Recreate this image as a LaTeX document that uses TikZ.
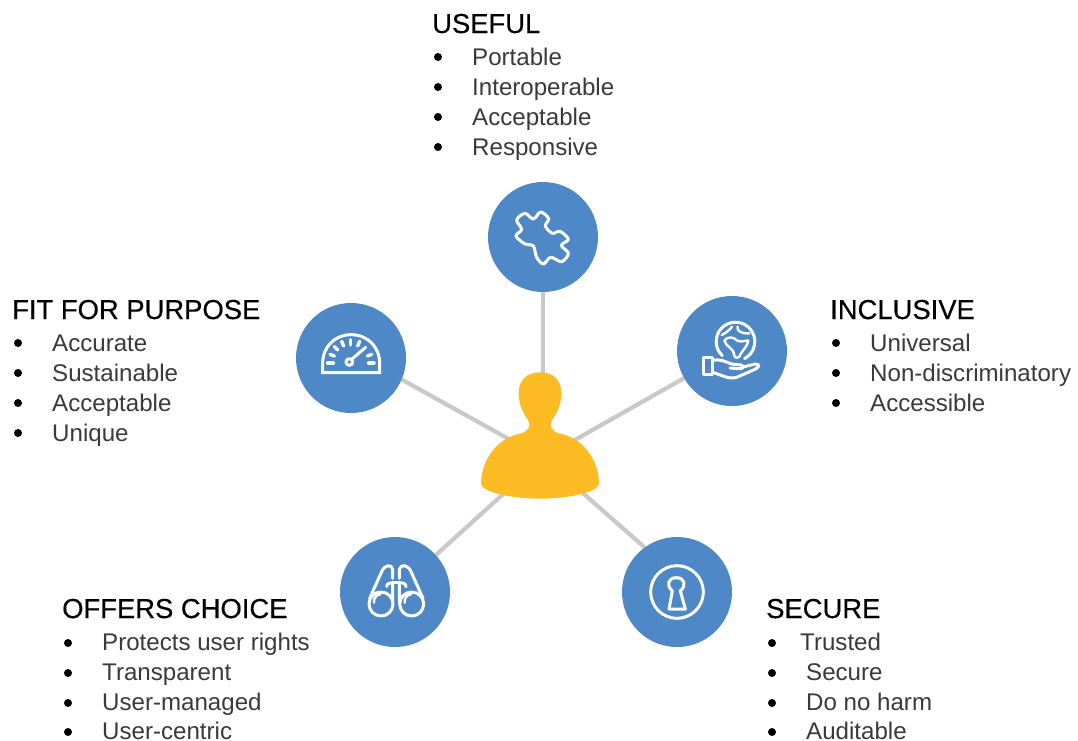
\documentclass[tikz,border=0pt]{standalone}
\usepackage{fontspec}
\setmainfont{Liberation Sans}
\newfontfamily\headfont[FakeBold=0.4]{Liberation Sans}
\usetikzlibrary{backgrounds}
\definecolor{hubblue}{HTML}{4F88C6}
\definecolor{persony}{HTML}{FDBB24}
\definecolor{spoke}{HTML}{C9C9C9}
\definecolor{itemtxt}{HTML}{3A3A3A}
\tikzset{
  hub/.style={circle,fill=hubblue,minimum size=110pt,inner sep=0pt},
  spokeline/.style={draw=spoke,line width=4.2pt},
  icon/.style={draw=white,line width=3pt,line cap=round,line join=round},
  iconfine/.style={draw=white,line width=2.4pt,line cap=round,line join=round},
  head/.style={anchor=base west,inner sep=0pt,font=\headfont\fontsize{27.4}{27}\selectfont,text=black},
  item/.style={anchor=base west,inner sep=0pt,font=\fontsize{24.1}{24}\selectfont,text=itemtxt},
  dotmark/.style={circle,fill=black,minimum size=8pt,inner sep=0pt},
  iconspace/.style={x=0.33333pt,y=-0.33333pt}
}
\begin{document}
\begin{tikzpicture}[x=1pt,y=-1pt]
\useasboundingbox (0,0) rectangle (1078,740);
% hubs
\node[hub] (useful) at (543,237) {};
\node[hub] (inclusive) at (732,351) {};
\node[hub] (fit) at (351,358) {};
\node[hub] (choice) at (395,592) {};
\node[hub] (secure) at (677,592) {};
\coordinate (person) at (543,458);
\begin{pgfonlayer}{background}
\fill[white] (0,0) rectangle (1078,740);
\draw[spokeline] (person) -- (useful);
\draw[spokeline] (person) -- (inclusive);
\draw[spokeline] (person) -- (fit.-23);
\draw[spokeline] (person) -- (choice);
\draw[spokeline] (person) -- (secure.126);
\end{pgfonlayer}
% person
\begin{scope}[shift={(470,360)},iconspace]
\fill[persony] (210,37) .. controls (170,37) and (146,60) .. (146,100)
 .. controls (146,135) and (160,160) .. (174,180)
 .. controls (184,198) and (175,212) .. (155,220)
 .. controls (90,230) and (35,290) .. (33,370)
 .. controls (33,395) and (120,416) .. (210,416)
 .. controls (300,416) and (387,395) .. (387,370)
 .. controls (385,290) and (330,230) .. (265,220)
 .. controls (245,212) and (236,198) .. (246,180)
 .. controls (260,160) and (274,135) .. (274,100)
 .. controls (274,60) and (250,37) .. (210,37) -- cycle;
\end{scope}
% puzzle
\begin{scope}[shift={(470,170)},iconspace]
\draw[icon] plot[smooth cycle,tension=0.55] coordinates {(140,150) (165,130) (190,147) (212,126) (236,146) (226,168) (247,190) (270,184) (295,208) (274,226) (295,250) (275,275) (242,262) (220,282) (200,262) (190,228) (165,222) (138,198) (155,178)};
\end{scope}
% globe and hand
\begin{scope}[shift={(670,290)},iconspace]
\draw[icon] (157,197) arc[start angle=133,end angle=422,radius=58];
\draw[iconfine] (163,152) .. controls (172,138) and (190,140) .. (202,152) .. controls (215,158) and (228,150) .. (235,152) .. controls (232,170) and (218,180) .. (212,192) .. controls (208,206) and (194,208) .. (192,194) .. controls (190,172) and (168,172) .. (163,152) -- cycle;
\draw[iconfine] (155,135) .. controls (165,130) and (178,122) .. (186,110);
\draw[iconfine] (203,110) .. controls (198,122) and (215,132) .. (238,130);
\draw[icon] (100,203) -- (126,203) -- (126,252) -- (100,252) -- cycle;
\draw[icon] (126,212) .. controls (150,205) and (165,215) .. (185,222) -- (213,225) .. controls (225,228) and (220,238) .. (205,236) -- (180,234);
\draw[icon] (215,232) -- (255,222) .. controls (270,222) and (270,230) .. (255,238) -- (200,262) .. controls (175,270) and (150,252) .. (126,247);
\end{scope}
% gauge
\begin{scope}[shift={(290,295)},iconspace]
\draw[icon,line join=miter] (98,233) -- (98,205) .. controls (98,155) and (135,119) .. (183,119) .. controls (232,119) and (269,155) .. (269,205) -- (269,233) -- cycle;
\draw[icon,line width=3.4pt] (113,204) -- (130,204);
\draw[icon,line width=3.4pt] (120,178) -- (133,183);
\draw[icon,line width=3.4pt] (133,155) -- (143,165);
\draw[icon,line width=3.4pt] (155,139) -- (161,153);
\draw[icon,line width=3.4pt] (182,134) -- (182,150);
\draw[icon,line width=3.4pt] (209,139) -- (203,153);
\draw[icon,line width=3.4pt] (245,178) -- (232,183);
\draw[icon,line width=3.4pt] (236,204) -- (252,204);
\draw[icon] (178,201) circle[radius=10];
\draw[icon] (186,192) -- (227,157);
\end{scope}
% binoculars
\begin{scope}[shift={(335,530)},iconspace]
\draw[icon] (138,222) circle[radius=36];
\draw[icon] (230,222) circle[radius=36];
\draw[iconfine] (117,218) arc[start angle=170,end angle=265,radius=22];
\draw[iconfine] (209,218) arc[start angle=170,end angle=265,radius=22];
\draw[icon] (104,205) -- (140,125) .. controls (148,105) and (170,100) .. (173,118) -- (173,145);
\draw[icon] (264,205) -- (228,125) .. controls (220,105) and (198,100) .. (193,118) -- (193,145);
\draw[icon] (155,170) .. controls (155,160) and (165,158) .. (173,158) -- (173,215);
\draw[icon] (213,170) .. controls (213,160) and (203,158) .. (193,158) -- (193,215);
\draw[icon] (173,158) -- (193,158);
\end{scope}
% keyhole
\begin{scope}[shift={(615,530)},iconspace]
\draw[icon] (186,186) circle[radius=79];
\draw[icon] (172,183) .. controls (152,165) and (160,143) .. (184,143) .. controls (208,143) and (216,165) .. (196,183) -- (211,237) -- (162,237) -- cycle;
\end{scope}
% USEFUL
\node[head] (h1) at (432,33) {USEFUL};
\foreach \n/\t/\y in {a/Portable/65,b/Interoperable/95,c/Acceptable/125,d/Responsive/155}{
  \node[item] (u\n) at (472,\y) {\t};
  \node[dotmark] (ud\n) at (438,\y-8) {};
}
% FIT FOR PURPOSE
\node[head] (h2) at (12,319) {FIT FOR PURPOSE};
\foreach \n/\t/\y in {a/Accurate/351,b/Sustainable/381,c/Acceptable/411,d/Unique/441}{
  \node[item] (f\n) at (52,\y) {\t};
  \node[dotmark] (fd\n) at (18,\y-8) {};
}
% INCLUSIVE
\node[head] (h3) at (830,319) {INCLUSIVE};
\foreach \n/\t/\y in {a/Universal/351,b/Non-discriminatory/381,c/Accessible/411}{
  \node[item] (i\n) at (870,\y) {\t};
  \node[dotmark] (id\n) at (836,\y-8) {};
}
% OFFERS CHOICE
\node[head] (h4) at (62,618) {OFFERS CHOICE};
\foreach \n/\t/\y in {a/Protects user rights/650,b/Transparent/680,c/User-managed/710,d/User-centric/739}{
  \node[item] (o\n) at (102,\y) {\t};
  \node[dotmark] (od\n) at (68,\y-7) {};
}
% SECURE
\node[head] (h5) at (766,618) {SECURE};
\foreach \n/\t/\x/\y in {a/Trusted/800/650,b/Secure/806/680,c/Do no harm/806/710,d/Auditable/806/739}{
  \node[item] (s\n) at (\x,\y) {\t};
  \node[dotmark] (sd\n) at (772,\y-7) {};
}
\end{tikzpicture}
\end{document}
